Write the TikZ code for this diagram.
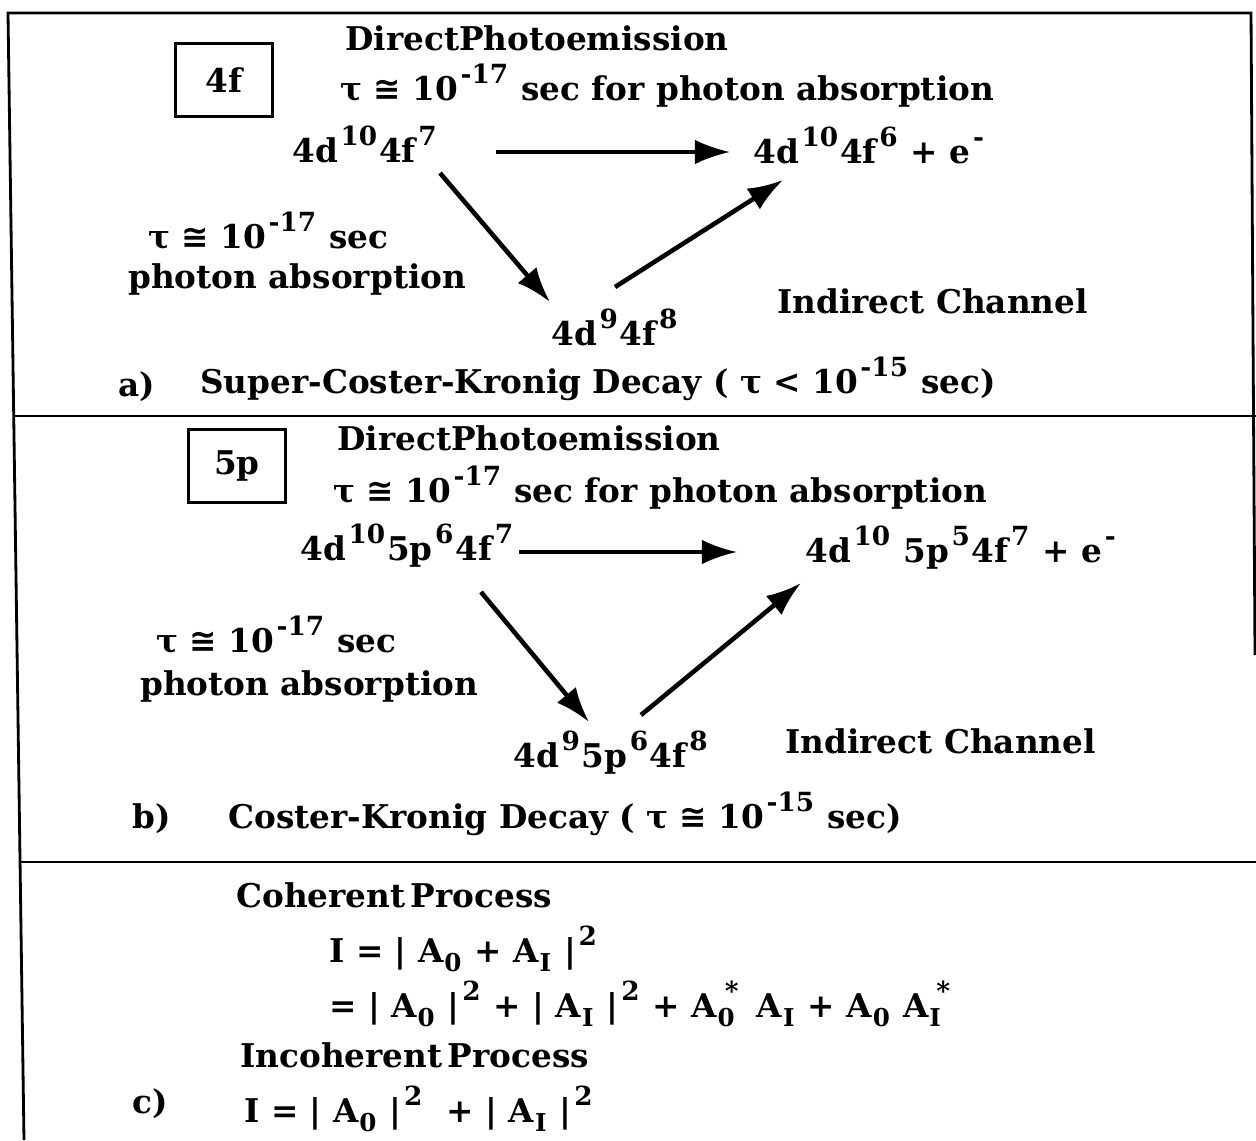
\documentclass[tikz,border=0pt]{standalone}
\usepackage{fontspec}
\setmainfont{DejaVu Serif}
\newfontfamily\symfont{DejaVu Sans}
\usetikzlibrary{arrows.meta}
\newcommand\spx[1]{\kern1.5pt\raisebox{0.5em}{\fontsize{15}{15}\selectfont #1}\kern1pt\relax}
\newcommand\sbx[1]{\kern0.5pt\raisebox{-0.3em}{\fontsize{14}{14}\selectfont #1}\kern1pt\relax}
\newcommand\sbsp[2]{\rlap{\sbx{#1}}\kern3pt\spx{#2}\kern3pt\relax}
\newcommand\aeq{{\symfont ≅}}
\begin{document}
\begin{tikzpicture}[x=0.02cm, y=-0.02cm,
    every node/.style={font=\bfseries\fontsize{18.6}{22}\selectfont, inner sep=0pt},
    txt/.style={anchor=base west},
    shell/.style={draw, line width=1.6pt, minimum width=1.95cm, minimum height=1.45cm},
    trans/.style={-{Latex[length=20pt,width=14pt]}, line width=2.6pt},
    frame/.style={line width=1.6pt}]
  \fill[white] (0,0) rectangle (1256,1140);
  \useasboundingbox (0,0) rectangle (1256,1140);
  \draw[frame] (24,1140) -- (8,13) -- (1251,13) -- (1255,655);
  \draw[frame] (14,416) -- (1256,416);
  \draw[frame] (20,862) -- (1256,862);

  \node[shell] (sa) at (224,80) {4f};
  \node[txt] (dpa) at (345,50) {DirectPhotoemission};
  \node[txt] (ta) at (340,100) {τ \aeq{} 10\spx{-17} sec for photon absorption};
  \node[txt] (ia) at (292,162) {4d\spx{10}4f\spx{7}};
  \node[txt] (fa) at (753,163) {4d\spx{10}4f\spx{6} + e\spx{-}};
  \node[txt] (lta) at (148,248) {τ \aeq{} 10\spx{-17} sec};
  \node[txt] (lpa) at (128,288) {photon absorption};
  \node[txt] (ma) at (551,345) {4d\spx{9}4f\spx{8}};
  \node[txt] (ica) at (777,313) {Indirect Channel};
  \node[txt] (la) at (118,396) {a)};
  \node[txt] (sck) at (200,393) {Super-Coster-Kronig Decay ( τ < 10\spx{-15} sec)};
  \draw[trans, line width=2pt] ([shift={(57,-10)}]ia.base east) -- ([shift={(-23,-11)}]fa.base west);
  \draw[trans] ([shift={(148,11)}]ia.base west) -- ([shift={(-1,-43)}]ma.base west);
  \draw[trans] ([shift={(64,-58)}]ma.base west) -- ([shift={(30,17)}]fa.base west);

  \node[shell] (sb) at (237,466) {5p};
  \node[txt] (dpb) at (337,450) {DirectPhotoemission};
  \node[txt] (tb) at (333,502) {τ \aeq{} 10\spx{-17} sec for photon absorption};
  \node[txt] (ib) at (300,560) {4d\spx{10}5p\spx{6}4f\spx{7}};
  \node[txt] (fb) at (805,562) {4d\spx{10} 5p\spx{5}4f\spx{7} + e\spx{-}};
  \node[txt] (ltb) at (156,652) {τ \aeq{} 10\spx{-17} sec};
  \node[txt] (lpb) at (140,695) {photon absorption};
  \node[txt] (mb) at (513,767) {4d\spx{9}5p\spx{6}4f\spx{8}};
  \node[txt] (icb) at (785,753) {Indirect Channel};
  \node[txt] (lb) at (132,828) {b)};
  \node[txt] (ckd) at (228,828) {Coster-Kronig Decay ( τ \aeq{} 10\spx{-15} sec)};
  \draw[trans, line width=2pt] ([shift={(4,-8)}]ib.base east) -- ([shift={(-68,-10)}]fb.base west);
  \draw[trans] ([shift={(181,32)}]ib.base west) -- ([shift={(76,-45)}]mb.base west);
  \draw[trans] ([shift={(128,-52)}]mb.base west) -- ([shift={(-4,21)}]fb.base west);

  \node[txt] (coh) at (236,907) {Coherent\,Process};
  \node[txt] (ic1) at (329,962) {I = | A\sbx{0} + A\sbx{I} |\spx{2}};
  \node[txt] (ic2) at (329,1017) {= | A\sbx{0} |\spx{2} + | A\sbx{I} |\spx{2} + A\sbsp{0}{*} A\sbx{I} + A\sbx{0} A\sbsp{I}{*}};
  \node[txt] (inc) at (240,1067) {Incoherent\,Process};
  \node[txt] (lc) at (132,1113) {c)};
  \node[txt] (ic3) at (244,1122) {I = | A\sbx{0} |\spx{2} \ + | A\sbx{I} |\spx{2}};
\end{tikzpicture}
\end{document}
